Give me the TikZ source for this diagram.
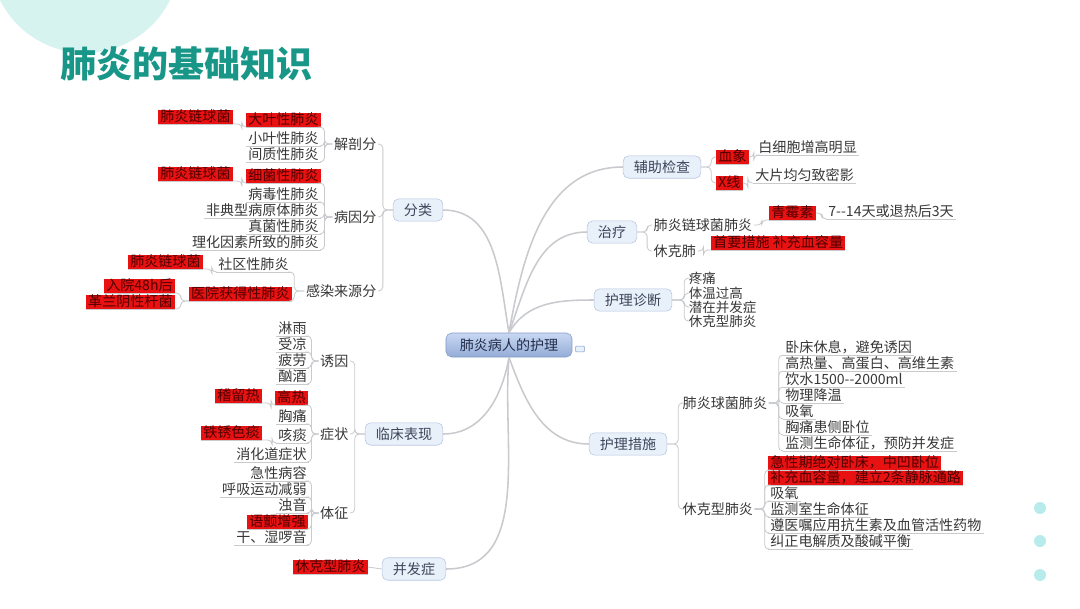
\documentclass[tikz,border=0pt]{standalone}
\usepackage{fontspec}
\usepackage{tikz}
\usetikzlibrary{positioning}
\newfontfamily\cjk{Noto Sans CJK SC}
\definecolor{titleteal}{RGB}{24,150,136}
\definecolor{blobcyan}{RGB}{214,243,240}
\definecolor{dotcyan}{RGB}{184,236,236}
\definecolor{txtgray}{RGB}{55,55,55}
\definecolor{linegray}{RGB}{200,202,206}
\definecolor{hired}{RGB}{232,18,18}
\definecolor{redtxt}{RGB}{80,0,0}
\definecolor{topicfill}{RGB}{232,240,250}
\definecolor{topicline}{RGB}{182,198,222}
\definecolor{topictxt}{RGB}{60,70,90}
\definecolor{roottop}{RGB}{200,216,242}
\definecolor{rootbot}{RGB}{148,172,215}
\definecolor{rootline}{RGB}{130,155,200}
\definecolor{roottxt}{RGB}{35,45,75}
\tikzset{
  base/.style={font=\cjk\fontsize{10pt}{12pt}\selectfont, text=txtgray},
  root/.style={base, draw=rootline, rounded corners=4pt, top color=roottop,
    bottom color=rootbot, text=roottxt, minimum width=3.15cm, minimum height=0.6cm},
  topic/.style={base, draw=topicline, fill=topicfill, rounded corners=4pt,
    text=topictxt, inner xsep=0.27cm, minimum height=0.55cm},
  sub/.style={base, inner sep=1pt},
  uline/.style={draw=linegray, line width=0.6pt},
  leaf/.style={base, inner xsep=1.5pt, inner ysep=0.2pt, text height=8pt, text depth=1.2pt,
    append after command={(\tikzlastnode.south west) edge[uline] (\tikzlastnode.south east)}},
  hot/.style={leaf, fill=hired, text=redtxt},
  conn/.style={draw=linegray, line width=0.6pt, rounded corners=3pt},
  branch/.style={draw=linegray, line width=1.1pt},
}
\begin{document}
\begin{tikzpicture}[x=0.025cm, y=-0.025cm]
  \useasboundingbox (0,0) rectangle (1080,608);
  % backdrop
  \fill[blobcyan] (85,-42) circle (2.37cm);
  \foreach \y in {508,541,575}
    \fill[dotcyan] (1040,\y) circle (0.15cm);
  \node[font=\cjk\bfseries\fontsize{25.6pt}{30pt}\selectfont, text=titleteal,
    anchor=west, inner sep=0pt] (title) at (60,64) {肺炎的基础知识};

  % centre and main topics
  \node[root] (root) at (509,345) {肺炎病人的护理};
  \node[draw=rootline, fill=topicfill, rounded corners=0.5pt, minimum width=0.22cm,
    minimum height=0.14cm, inner sep=0pt] (fold) at (580,349) {};
  \node[topic] (cls) at (418,210) {分类};
  \node[topic] (clin) at (404,434) {临床表现};
  \node[topic] (comp) at (414,569) {并发症};
  \node[topic] (aux) at (662,167) {辅助检查};
  \node[topic] (treat) at (612,232) {治疗};
  \node[topic] (diag) at (633,300) {护理诊断};
  \node[topic] (meas) at (628,444) {护理措施};
  \draw[branch] (root.north) to[out=100,in=0] (cls.east);
  \draw[branch] (root.south) to[out=-100,in=0] (clin.east);
  \draw[branch] (root.south) to[out=-95,in=0] (comp.east);
  \draw[branch] (root.north) to[out=80,in=180] (aux.west);
  \draw[branch] (root.north) to[out=70,in=180] (treat.west);
  \draw[branch] (root.north) to[out=60,in=180] (diag.west);
  \draw[branch] (root.south) to[out=-70,in=180] (meas.west);

  % classification
  \node[sub, anchor=east] (anat) at (378,144) {解剖分};
  \node[sub, anchor=east] (cause) at (378,217) {病因分};
  \node[sub, anchor=east] (src) at (378,291) {感染来源分};
  \foreach \n in {anat,cause,src}
    \draw[conn] (cls.west) -- ++(-10,0) |- (\n.east);

  \node[hot, anchor=east] (lobar) at (321,120) {大叶性肺炎};
  \node[leaf, anchor=east] (lobul) at (321,139) {小叶性肺炎};
  \node[leaf, anchor=east] (inter) at (321,155) {间质性肺炎};
  \foreach \n in {lobar,lobul,inter}
    \draw[conn] (anat.west) -- ++(-8,0) |- (\n.south east);
  \node[hot, anchor=east] (strepA) at (233,117) {肺炎链球菌};
  \draw[conn] (lobar.south west) -- ++(-4,0) |- (strepA.south east);

  \node[hot, anchor=east] (bact) at (321,176) {细菌性肺炎};
  \foreach \n/\y/\t in {viral/195/病毒性肺炎, atyp/211/非典型病原体肺炎,
                        fung/227/真菌性肺炎, phys/243/理化因素所致的肺炎}
    \node[leaf, anchor=east] (\n) at (321,\y) {\t};
  \foreach \n in {bact,viral,atyp,fung,phys}
    \draw[conn] (cause.west) -- ++(-8,0) |- (\n.south east);
  \node[hot, anchor=east] (strepB) at (233,174) {肺炎链球菌};
  \draw[conn] (bact.south west) -- ++(-4,0) |- (strepB.south east);

  \node[leaf, anchor=east] (commun) at (291,265) {社区性肺炎};
  \node[hot, anchor=east] (hosp) at (292,294) {医院获得性肺炎};
  \foreach \n in {commun,hosp}
    \draw[conn] (src.west) -- ++(-10,0) |- (\n.south east);
  \node[hot, anchor=east] (strepC) at (203,262) {肺炎链球菌};
  \draw[conn] (commun.south west) -- ++(-4,0) |- (strepC.south east);
  \node[hot, anchor=east] (adm48) at (175,286) {入院48h后};
  \node[hot, anchor=east] (gramneg) at (175,302) {革兰阴性杆菌};
  \foreach \n in {adm48,gramneg}
    \draw[conn] (hosp.south west) -- ++(-8,0) |- (\n.south east);

  % clinical picture
  \node[sub, anchor=east] (trig) at (350,361) {诱因};
  \node[sub, anchor=east] (symp) at (350,434) {症状};
  \node[sub, anchor=east] (sign) at (350,513) {体征};
  \foreach \n in {trig,symp,sign}
    \draw[conn] (clin.west) -- ++(-10,0) |- (\n.east);

  \foreach \n/\y/\t in {rain/329/淋雨, cold/345/受凉, tired/361/疲劳, drink/377/酗酒}
    \node[leaf, anchor=east] (\n) at (309,\y) {\t};
  \foreach \n in {rain,cold,tired,drink}
    \draw[conn] (trig.west) -- ++(-7,0) |- (\n.south east);

  \node[hot, anchor=east] (fever) at (308,398) {高热};
  \node[leaf, anchor=east] (chest) at (309,417) {胸痛};
  \node[leaf, anchor=east] (cough) at (309,436) {咳痰};
  \node[leaf, anchor=east] (gi) at (309,455) {消化道症状};
  \foreach \n in {fever,chest,cough,gi}
    \draw[conn] (symp.west) -- ++(-7,0) |- (\n.south east);
  \node[hot, anchor=east] (contf) at (262,396) {稽留热};
  \draw[conn] (fever.south west) -- ++(-4,0) |- (contf.south east);
  \node[hot, anchor=east] (rusty) at (262,433) {铁锈色痰};
  \draw[conn] (cough.south west) -- ++(-4,0) |- (rusty.south east);

  \foreach \n/\y/\t in {acute/474/急性病容, breath/490/呼吸运动减弱, dull/506/浊音}
    \node[leaf, anchor=east] (\n) at (309,\y) {\t};
  \node[hot, anchor=east] (fremit) at (308,522) {语颤增强};
  \node[leaf, anchor=east] (rale) at (309,538) {干、湿啰音};
  \foreach \n in {acute,breath,dull,fremit,rale}
    \draw[conn] (sign.west) -- ++(-7,0) |- (\n.south east);

  % complication
  \node[hot, anchor=east] (shockL) at (368,567) {休克型肺炎};
  \draw[conn] (comp.west) -- (shockL.east);

  % examinations
  \node[hot, anchor=west] (blood) at (716,157) {血象};
  \node[hot, anchor=west] (xray) at (716,183) {X线};
  \foreach \n in {blood,xray}
    \draw[conn] (aux.east) -- ++(10,0) |- (\n.west);
  \node[leaf, anchor=west] (wbc) at (756,148) {白细胞增高明显};
  \draw[conn] (blood.east) -- ++(5,0) |- (wbc.south west);
  \node[leaf, anchor=west] (shadow) at (753,176) {大片均匀致密影};
  \draw[conn] (xray.east) -- ++(5,0) |- (shadow.south west);

  % treatment
  \node[sub, anchor=west] (strepP) at (652,225) {肺炎链球菌肺炎};
  \node[sub, anchor=west] (shockP) at (652,251) {休克肺};
  \foreach \n in {strepP,shockP}
    \draw[conn] (treat.east) -- ++(10,0) |- (\n.west);
  \node[hot, anchor=west] (pen) at (769,213) {青霉素};
  \draw[conn] (strepP.east) -- ++(8,0) |- (pen.south west);
  \node[leaf, anchor=west] (days) at (826,212) {7{-}{-}14天或退热后3天};
  \draw[conn] (pen.east) -- ++(6,0) |- (days.south west);
  \node[hot, anchor=west] (first) at (711,243) {首要措施 补充血容量};
  \draw[conn] (shockP.east) -- ++(6,0) |- (first.south west);

  % nursing diagnosis
  \foreach \n/\y/\t in {pain/278/疼痛, hyper/293/体温过高, pot/307/潜在并发症, shockD/321/休克型肺炎}
    \node[sub, anchor=west, inner sep=0.5pt, font=\cjk\fontsize{9.6pt}{11pt}\selectfont] (\n) at (688,\y) {\t};
  \foreach \n in {pain,hyper,pot,shockD}
    \draw[conn] (diag.east) -- ++(12,0) |- (\n.west);

  % nursing measures
  \node[sub, anchor=west] (pneuC) at (681,403) {肺炎球菌肺炎};
  \node[sub, anchor=west] (shockM) at (681,509) {休克型肺炎};
  \foreach \n in {pneuC,shockM}
    \draw[conn] (meas.east) -- ++(11,0) |- (\n.west);

  \foreach \n/\y/\t in {r1/348/卧床休息，避免诱因, r2/364/高热量、高蛋白、高维生素,
                        r3/380/饮水1500{-}{-}2000ml, r4/396/物理降温, r5/412/吸氧,
                        r6/428/胸痛患侧卧位, r7/444/监测生命体征，预防并发症}
    \node[leaf, anchor=west] (\n) at (783,\y) {\t};
  \foreach \n in {r1,r2,r3,r4,r5,r6,r7}
    \draw[conn] (pneuC.east) -- ++(10,0) |- (\n.south west);

  \node[hot, anchor=west] (s1) at (768,463) {急性期绝对卧床，中凹卧位};
  \node[hot, anchor=west] (s2) at (768,478) {补充血容量，建立2条静脉通路};
  \foreach \n/\y/\t in {s3/494/吸氧, s4/510/监测室生命体征,
                        s5/526/遵医嘱应用抗生素及血管活性药物, s6/542/纠正电解质及酸碱平衡}
    \node[leaf, anchor=west] (\n) at (768,\y) {\t};
  \foreach \n in {s1,s2,s3,s4,s5,s6}
    \draw[conn] (shockM.east) -- ++(10,0) |- (\n.south west);
\end{tikzpicture}
\end{document}
